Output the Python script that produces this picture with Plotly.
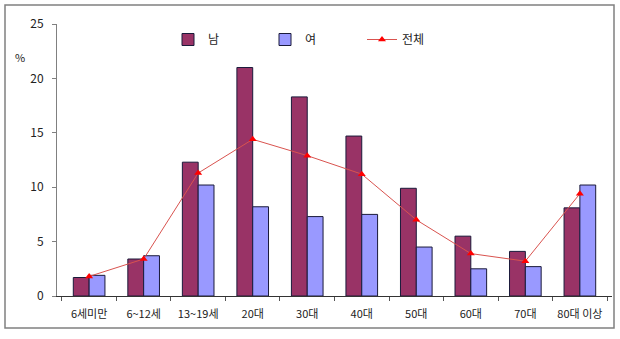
import plotly.graph_objects as go

# Age groups and shares (%) by sex
age_groups = ["6세미만", "6~12세", "13~19세", "20대", "30대", "40대", "50대", "60대", "70대", "80대 이상"]
male = [1.7, 3.4, 12.3, 21.0, 18.3, 14.7, 9.9, 5.5, 4.1, 8.1]
female = [1.9, 3.7, 10.2, 8.2, 7.3, 7.5, 4.5, 2.5, 2.7, 10.2]
total = [1.8, 3.4, 11.3, 14.4, 12.9, 11.2, 7.0, 3.9, 3.2, 9.4]
y_ticks = [0, 5, 10, 15, 20, 25]

FONT = "Noto Sans CJK KR, DejaVu Sans, sans-serif"

fig = go.Figure()
fig.add_trace(go.Bar(
    x=age_groups, y=male, name="남",
    marker=dict(color="#993366", line=dict(color="#1a1a3a", width=1)),
))
fig.add_trace(go.Bar(
    x=age_groups, y=female, name="여",
    marker=dict(color="#9999ff", line=dict(color="#1a1a3a", width=1)),
))
fig.add_trace(go.Scatter(
    x=age_groups, y=total, name="전체", mode="lines+markers",
    line=dict(color="#d9534f", width=1),
    marker=dict(symbol="triangle-up", size=7, color="#ff0000"),
))

# Outer frame around the whole chart
L, R, T, B = 57, 8, 24, 43
W, H = 620, 339
pw, ph = W - L - R, H - T - B
fig.add_shape(
    type="rect", xref="paper", yref="paper",
    x0=(5 - L) / pw, x1=(614 - L) / pw,
    y0=(H - B - 328) / ph, y1=(H - B - 5) / ph,
    line=dict(color="#808080", width=1.5), fillcolor="rgba(0,0,0,0)", layer="below",
)
fig.add_annotation(
    text="%", xref="paper", yref="paper",
    x=(13 - L) / pw, y=(H - B - 47) / ph,
    showarrow=False, font=dict(family=FONT, size=11, color="#222222"),
)

fig.update_layout(
    width=W, height=H,
    margin=dict(l=L, r=R, t=T, b=B),
    paper_bgcolor="white", plot_bgcolor="white",
    barmode="group", bargap=0.42, bargroupgap=0,
    font=dict(family=FONT, size=11, color="#222222"),
    showlegend=True,
    legend=dict(
        orientation="h", x=(168 - L) / pw, y=(H - B - 25) / ph,
        xanchor="left", yanchor="top",
        entrywidth=52, entrywidthmode="pixels",
        bgcolor="rgba(0,0,0,0)", font=dict(family=FONT, size=12, color="#222222"),
        itemwidth=30, traceorder="normal",
    ),
)
fig.update_xaxes(
    type="category", showline=True, linecolor="#333333", linewidth=1,
    ticks="outside", tickson="boundaries", ticklen=4, tickcolor="#555555",
    showgrid=False, ticklabelstandoff=8,
    tickfont=dict(family=FONT, size=11, color="#222222"),
)
fig.update_yaxes(
    range=[0, 25], tickvals=y_ticks, showline=True, linecolor="#808080", linewidth=1,
    ticks="outside", ticklen=4, tickcolor="#808080", showgrid=False, zeroline=False,
    ticklabelstandoff=6,
    tickfont=dict(family=FONT, size=12, color="#222222"),
)

fig.write_html("out.html")
